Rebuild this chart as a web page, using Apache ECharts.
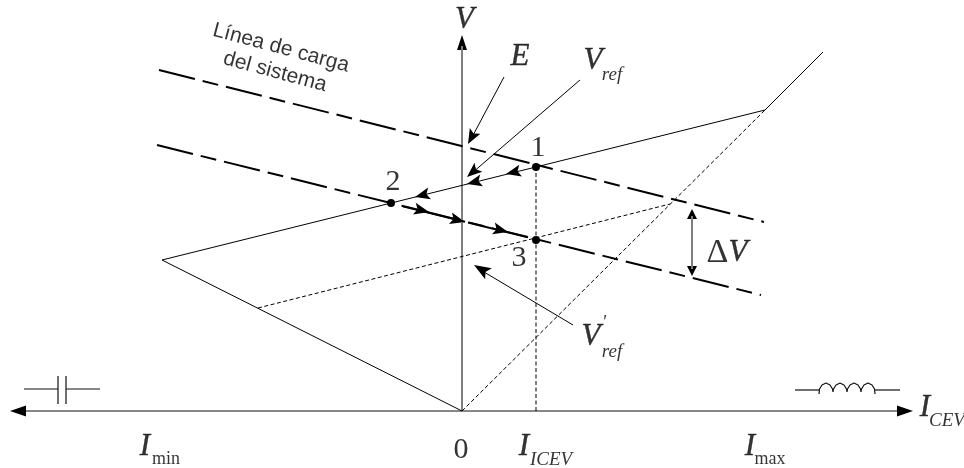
<!DOCTYPE html>
<html>
<head>
<meta charset="utf-8">
<style>
  html, body { margin: 0; padding: 0; background: #fff; }
  #chart { width: 964px; height: 468px; }
</style>
<script src="https://cdn.jsdelivr.net/npm/echarts@6/dist/echarts.min.js"></script>
</head>
<body>
<div id="chart"></div>
<script>
// diagram units: I to the right, V upwards, origin where the two axes cross
const loadLineE = [[-303, 341], [302, 189]];
const loadLineVref = [[-305, 266], [299, 116]];
const flowOut = [[-59, 204.6], [3, 189.3]];
const flowOn = [[6, 188.5], [66, 173.6]];
const characteristic = [[361, 359], [303, 301], [-300, 151], [0, 0]];
const vrefPrime = [[-204, 103], [208, 207]];
const diagonal = [[0, 0], [303, 301]];
const iCevDrop = [[74, 0], [74, 244]];
const axisI = [[-440, 0], [440, 0]];
const axisV = [[0, 0], [0, 365]];
const deltaV = [[230, 195], [230, 142]];

const leaderE = [[42, 334], [8, 270]];
const leaderVref = [[118, 331], [10, 238]];
const leaderVrefPrime = [[111, 86], [22, 139]];

const capWires = [[[-438, 22], [-404, 22]], [[-396, 22], [-362, 22]]];
const capPlates = [[[-404, 35], [-404, 7]], [[-396, 35], [-396, 7]]];
const coilWires = [[[333, 21], [357, 21]], [[413, 21], [438, 21]]];
const coil = [
  [357, 17], [357.5, 22], [360, 26], [364, 28], [368, 26], [370.5, 22], [371, 19],
  [371.5, 22], [374, 26], [378, 28], [382, 26], [384.5, 22], [385, 19],
  [385.5, 22], [388, 26], [392, 28], [396, 26], [398.5, 22], [399, 19],
  [399.5, 22], [402, 26], [406, 28], [410, 26], [412.5, 22], [413, 17],
];

const operatingPoints = [[74, 244], [-71, 208], [74, 171]];

// arrow heads: [from x, from y, tip x, tip y]
const axisIHeads = [[-400, 0, -452, 0], [400, 0, 451, 0]];
const axisVHead = [[0, 300, 0, 376]];
const deltaHeads = [[230, 170, 230, 202], [230, 170, 230, 135]];
const flowHeads = [
  [74, 244, 44, 237], [74, 244, 5, 227], [74, 244, -47, 214],
  [-71, 208, -33, 199], [-71, 208, 3, 189], [-71, 208, 46, 179],
];
const leaderHeads = [[42, 334, 6, 267], [118, 331, 5, 234]];
const leaderPrimeHead = [[111, 86, 12, 146]];

const bigItalic = [
  [2.5, 391, 'V'], [58, 354, 'E'], [131, 350, 'V'], [129, 74, 'V'],
  [463, 3, 'I'], [-317, -36, 'I'], [288, -36, 'I'], [62, -36, 'I'],
];
const subItalic = [
  [150, 336, 'ref'], [150, 59, 'ref'], [142, 88, "'"],
  [485, -10, 'CEV'], [89, -49, 'ICEV'],
];
const subRoman = [[-296, -48, 'min'], [308, -48, 'max']];
const numbers = [[76, 263, '1'], [-69, 229, '2'], [57, 153, '3'], [-1, -39, '0']];
const deltaLabel = [[265, 158, '{a|Δ}{b|V}']];
const loadLineCaption = [[-181, 363, 'Línea de carga'], [-187, 339, 'del sistema']];

const serif = 'Liberation Serif';
const arrowBarbed = 'path://M0,0 L5,14 L0,11 L-5,14 Z';
const arrowFlat = 'path://M0,0 L5,14 L-5,14 Z';

function line(data, color, width, type) {
  return {
    type: 'line',
    data: data,
    symbol: 'none',
    silent: true,
    clip: false,
    lineStyle: {color: color, width: width, type: type || 'solid', cap: 'butt'},
  };
}

function heads(list, path, len, wid) {
  return {
    type: 'scatter',
    silent: true,
    clip: false,
    symbol: path,
    symbolSize: [wid, len],
    itemStyle: {color: '#000', opacity: 1},
    data: list.map(function(h) {
      const dx = h[2] - h[0];
      const dy = h[3] - h[1];
      const d = Math.sqrt(dx * dx + dy * dy);
      return {
        value: [h[2] - (dx / d) * len / 2, h[3] - (dy / d) * len / 2],
        symbolRotate: (Math.atan2(-dx, dy) * 180) / Math.PI,
      };
    }),
  };
}

function texts(list, style, rotate) {
  return {
    type: 'scatter',
    silent: true,
    clip: false,
    symbolSize: 0,
    data: list.map(function(t) {
      return {value: [t[0], t[1]], name: t[2]};
    }),
    label: Object.assign(
      {
        show: true,
        position: 'inside',
        formatter: '{b}',
        color: '#000',
        align: 'center',
        verticalAlign: 'middle',
        rotate: rotate || 0,
      },
      style
    ),
  };
}

const loadDash = [37, 8, 16, 8];
const fineDash = [4, 2.5];
const heavy = {textBorderColor: '#000', textBorderWidth: 0.4};

const chart = echarts.init(document.getElementById('chart'), null, {renderer: 'canvas'});
chart.setOption({
  animation: false,
  backgroundColor: '#fff',
  grid: {left: 0, right: 0, top: 0, bottom: 0},
  xAxis: {type: 'value', min: -462, max: 502, show: false},
  yAxis: {type: 'value', min: -57, max: 411, show: false},
  series: [
    line(axisI, '#111', 1.2),
    line(axisV, '#7f7f7f', 2),
    line(deltaV, '#7f7f7f', 2),
    line(loadLineE, '#000', 2, loadDash),
    line(loadLineVref, '#000', 2, loadDash),
    line(flowOut, '#000', 2),
    line(flowOn, '#000', 2),
    line(characteristic, '#000', 1),
    line(vrefPrime, '#000', 1, fineDash),
    line(diagonal, '#000', 1, fineDash),
    line(iCevDrop, '#000', 1, fineDash),
    line(leaderE, '#000', 1),
    line(leaderVref, '#000', 1),
    line(leaderVrefPrime, '#000', 1),
    line(capWires[0], '#111', 1.2),
    line(capWires[1], '#111', 1.2),
    line(capPlates[0], '#111', 1.2),
    line(capPlates[1], '#111', 1.2),
    line(coilWires[0], '#111', 1.2),
    line(coilWires[1], '#111', 1.2),
    line(coil, '#111', 1.2),
    heads(axisIHeads, arrowFlat, 16, 11),
    heads(axisVHead, arrowFlat, 15, 10),
    heads(deltaHeads, arrowFlat, 10, 10),
    heads(flowHeads, arrowBarbed, 15, 12),
    heads(leaderHeads, arrowBarbed, 15, 12),
    heads(leaderPrimeHead, arrowBarbed, 17, 13),
    {
      type: 'scatter',
      silent: true,
      symbol: 'circle',
      symbolSize: 8,
      itemStyle: {color: '#000', opacity: 1},
      data: operatingPoints,
    },
    texts(bigItalic, Object.assign({fontFamily: serif, fontStyle: 'italic', fontSize: 31}, heavy)),
    texts(subItalic, {fontFamily: serif, fontStyle: 'italic', fontSize: 19}),
    texts(subRoman, {fontFamily: serif, fontSize: 18}),
    texts(numbers, {fontFamily: serif, fontSize: 30}),
    texts(deltaLabel, {
      rich: {
        a: {fontFamily: serif, fontSize: 34},
        b: Object.assign({fontFamily: serif, fontStyle: 'italic', fontSize: 31}, heavy),
      },
    }),
    texts(loadLineCaption, {fontFamily: 'Liberation Sans', fontSize: 21}, -15),
  ],
});
</script>
</body>
</html>
